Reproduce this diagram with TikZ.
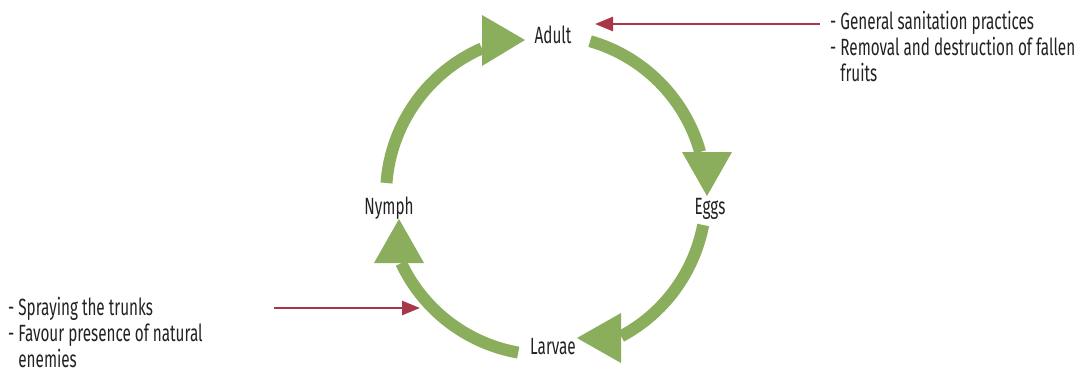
\documentclass[tikz,border=0pt]{standalone}
\usepackage{fontspec}
\setmainfont{Fira Sans}[FakeStretch=0.65]
\usetikzlibrary{arrows.meta}

\definecolor{cyclegreen}{RGB}{138,174,92}
\definecolor{controlred}{RGB}{168,56,72}
\definecolor{labelgray}{RGB}{34,34,34}

\tikzset{
  stage/.style={font=\fontsize{23.5}{26}\selectfont, text=labelgray, inner sep=0pt, anchor=base},
  note/.style={font=\fontsize{23.5}{26}\selectfont, text=labelgray, inner sep=0pt, anchor=base west},
  band/.style={draw=cyclegreen, line width=12pt},
  bandhead/.style={fill=cyclegreen},
  control/.style={draw=controlred, line width=2.7pt, -{Triangle[length=18pt,width=14pt]}},
}

\begin{document}
\begin{tikzpicture}[x=1pt,y=-1pt]
\useasboundingbox (0,0) rectangle (1079,367);
\coordinate (c) at (546,195);
% life stages
\node[stage] (adult) at (553,43) {Adult};
\node[stage] (eggs) at (710,214) {Eggs};
\node[stage] (larvae) at (553,354) {Larvae};
\node[stage] (nymph) at (389,214) {Nymph};
% cycle bands
\draw[band] ([shift={(-74:160)}]c) arc[start angle=-74, end angle=-15.6, radius=160];
\draw[band] ([shift={(10.8:160)}]c) arc[start angle=10.8, end angle=62, radius=160];
\draw[band] ([shift={(100:160)}]c) arc[start angle=100, end angle=154.8, radius=160];
\draw[band] ([shift={(184.3:160)}]c) arc[start angle=184.3, end angle=246.4, radius=160];
% cycle heads
\coordinate (eggsTip) at (707,196);
\coordinate (larvaeTip) at (577,338);
\coordinate (nymphTip) at (399,219);
\coordinate (adultTip) at (525,40);
\fill[bandhead] (eggsTip) -- ++(-25,-44) -- ++(50,0) -- cycle;
\fill[bandhead] (larvaeTip) -- ++(44,-25) -- ++(0,50) -- cycle;
\fill[bandhead] (nymphTip) -- ++(-25,44) -- ++(50,0) -- cycle;
\fill[bandhead] (adultTip) -- ++(-43,-25) -- ++(0,51) -- cycle;
% control measures
\node[note] (sanitation) at (830,29) {\begin{tabular}[t]{@{}l@{}}- General sanitation practices\\- Removal and destruction of fallen\\\phantom{- }fruits\end{tabular}};
\node[note] (spraying) at (8,315) {\begin{tabular}[t]{@{}l@{}}- Spraying the trunks\\- Favour presence of natural\\\phantom{- }enemies\end{tabular}};
\coordinate (sanitationFrom) at (820,24);
\coordinate (adultIn) at (595,24);
\coordinate (sprayingFrom) at (274,308);
\coordinate (nymphIn) at (420,308);
\draw[control] (sanitationFrom) -- (adultIn);
\draw[control] (sprayingFrom) -- (nymphIn);
\end{tikzpicture}
\end{document}
